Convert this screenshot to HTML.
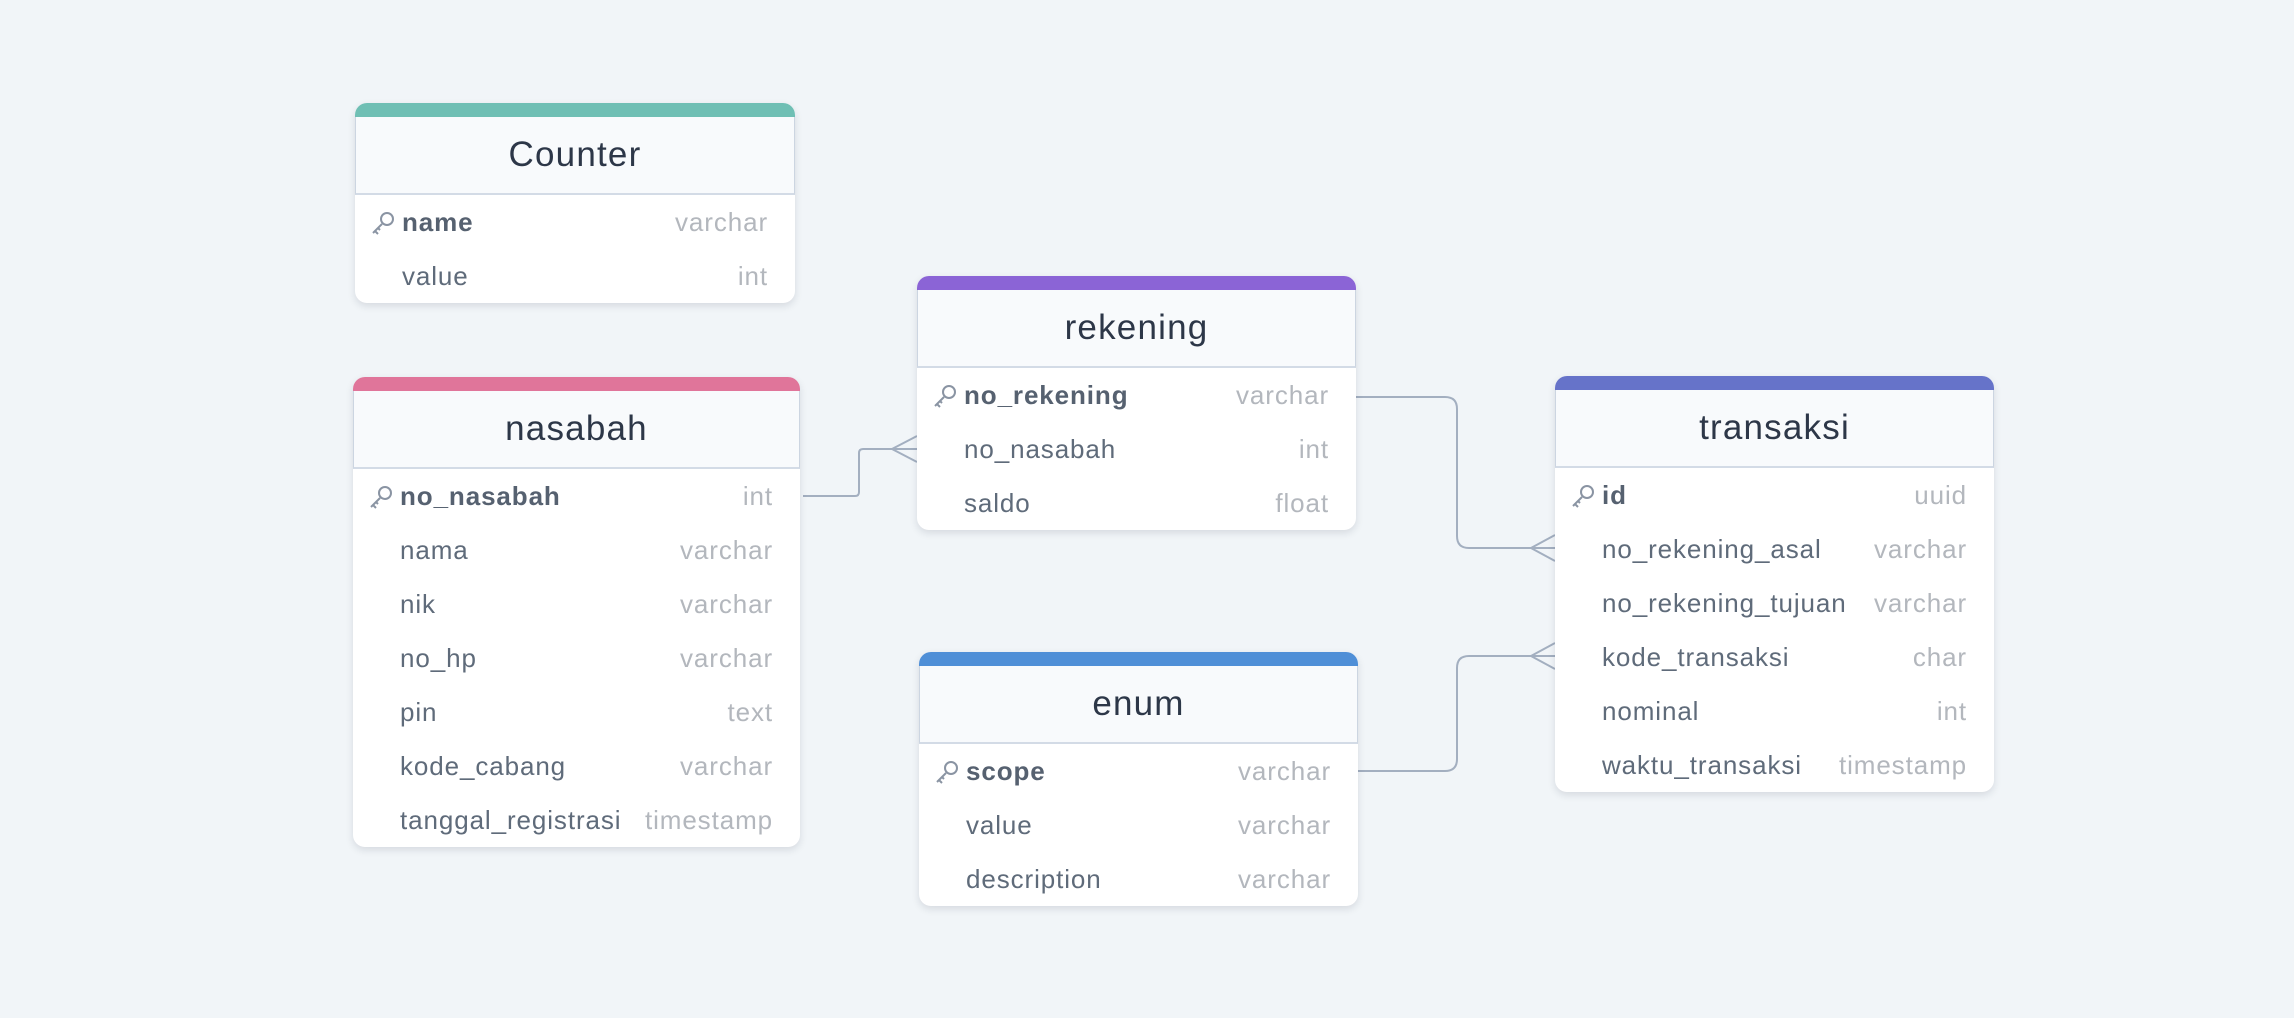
<!DOCTYPE html>
<html><head><meta charset="utf-8"><style>
body{margin:0;width:2294px;height:1018px;background:#f1f5f8;position:relative;overflow:hidden;font-family:"Liberation Sans",sans-serif}
.t{position:absolute;background:#fff;border-radius:12px;box-shadow:0 3px 8px rgba(30,41,59,.13);overflow:hidden}
.bar{height:14px}
.h{height:76px;background:#f8fafc;border:1px solid #ccd5e1;border-top:none;border-bottom:2px solid #d3dbe6;box-sizing:content-box;text-align:center;line-height:76px;font-size:35px;letter-spacing:1.2px;color:#2d3748}
.r{height:54px;position:relative;font-size:26px;letter-spacing:0.9px;line-height:54px;color:#5f6b7a}
.r .n{position:absolute;left:47px}
.r .ty{position:absolute;right:27px;color:#b3b7bd}
.r.pk .n{font-weight:bold;color:#566170}
.key{position:absolute;left:15px;top:15px}
svg.c{position:absolute;left:0;top:0}
</style></head><body>
<svg class="c" width="2294" height="1018" fill="none" stroke="#a3afc0" stroke-width="2">
<path d="M803 496 H855 Q859 496 859 492 V453 Q859 449 863 449 H917"/>
<path d="M892 449 L917 436 M892 449 L917 462"/>
<path d="M1356 397 H1445 Q1457 397 1457 409 V536 Q1457 548 1469 548 H1555"/>
<path d="M1531 548 L1555 535 M1531 548 L1555 561"/>
<path d="M1358 771 H1445 Q1457 771 1457 759 V668 Q1457 656 1469 656 H1555"/>
<path d="M1531 656 L1555 643 M1531 656 L1555 669"/>
</svg>

<div class="t" style="left:355px;top:103px;width:440px">
<div class="bar" style="background:#6fbfb4"></div><div class="h">Counter</div>
<div class="r pk"><svg class="key" width="26" height="26" viewBox="0 0 26 26" fill="none" stroke="#8a94a3" stroke-width="2"><circle cx="17" cy="9" r="6"/><path d="M12 14 L3 23 M5 21 L8 24 M8 18 L10 20"/></svg><span class="n">name</span><span class="ty">varchar</span></div>
<div class="r"><span class="n">value</span><span class="ty">int</span></div>
</div>

<div class="t" style="left:353px;top:377px;width:447px">
<div class="bar" style="background:#e0759a"></div><div class="h">nasabah</div>
<div class="r pk"><svg class="key" width="26" height="26" viewBox="0 0 26 26" fill="none" stroke="#8a94a3" stroke-width="2"><circle cx="17" cy="9" r="6"/><path d="M12 14 L3 23 M5 21 L8 24 M8 18 L10 20"/></svg><span class="n">no_nasabah</span><span class="ty">int</span></div>
<div class="r"><span class="n">nama</span><span class="ty">varchar</span></div>
<div class="r"><span class="n">nik</span><span class="ty">varchar</span></div>
<div class="r"><span class="n">no_hp</span><span class="ty">varchar</span></div>
<div class="r"><span class="n">pin</span><span class="ty">text</span></div>
<div class="r"><span class="n">kode_cabang</span><span class="ty">varchar</span></div>
<div class="r"><span class="n">tanggal_registrasi</span><span class="ty">timestamp</span></div>
</div>

<div class="t" style="left:917px;top:276px;width:439px">
<div class="bar" style="background:#8b64d6"></div><div class="h">rekening</div>
<div class="r pk"><svg class="key" width="26" height="26" viewBox="0 0 26 26" fill="none" stroke="#8a94a3" stroke-width="2"><circle cx="17" cy="9" r="6"/><path d="M12 14 L3 23 M5 21 L8 24 M8 18 L10 20"/></svg><span class="n">no_rekening</span><span class="ty">varchar</span></div>
<div class="r"><span class="n">no_nasabah</span><span class="ty">int</span></div>
<div class="r"><span class="n">saldo</span><span class="ty">float</span></div>
</div>

<div class="t" style="left:919px;top:652px;width:439px">
<div class="bar" style="background:#4f8fd7"></div><div class="h">enum</div>
<div class="r pk"><svg class="key" width="26" height="26" viewBox="0 0 26 26" fill="none" stroke="#8a94a3" stroke-width="2"><circle cx="17" cy="9" r="6"/><path d="M12 14 L3 23 M5 21 L8 24 M8 18 L10 20"/></svg><span class="n">scope</span><span class="ty">varchar</span></div>
<div class="r"><span class="n">value</span><span class="ty">varchar</span></div>
<div class="r"><span class="n">description</span><span class="ty">varchar</span></div>
</div>

<div class="t" style="left:1555px;top:376px;width:439px">
<div class="bar" style="background:#6673c9"></div><div class="h">transaksi</div>
<div class="r pk"><svg class="key" width="26" height="26" viewBox="0 0 26 26" fill="none" stroke="#8a94a3" stroke-width="2"><circle cx="17" cy="9" r="6"/><path d="M12 14 L3 23 M5 21 L8 24 M8 18 L10 20"/></svg><span class="n">id</span><span class="ty">uuid</span></div>
<div class="r"><span class="n">no_rekening_asal</span><span class="ty">varchar</span></div>
<div class="r"><span class="n">no_rekening_tujuan</span><span class="ty">varchar</span></div>
<div class="r"><span class="n">kode_transaksi</span><span class="ty">char</span></div>
<div class="r"><span class="n">nominal</span><span class="ty">int</span></div>
<div class="r"><span class="n">waktu_transaksi</span><span class="ty">timestamp</span></div>
</div>
</body></html>
